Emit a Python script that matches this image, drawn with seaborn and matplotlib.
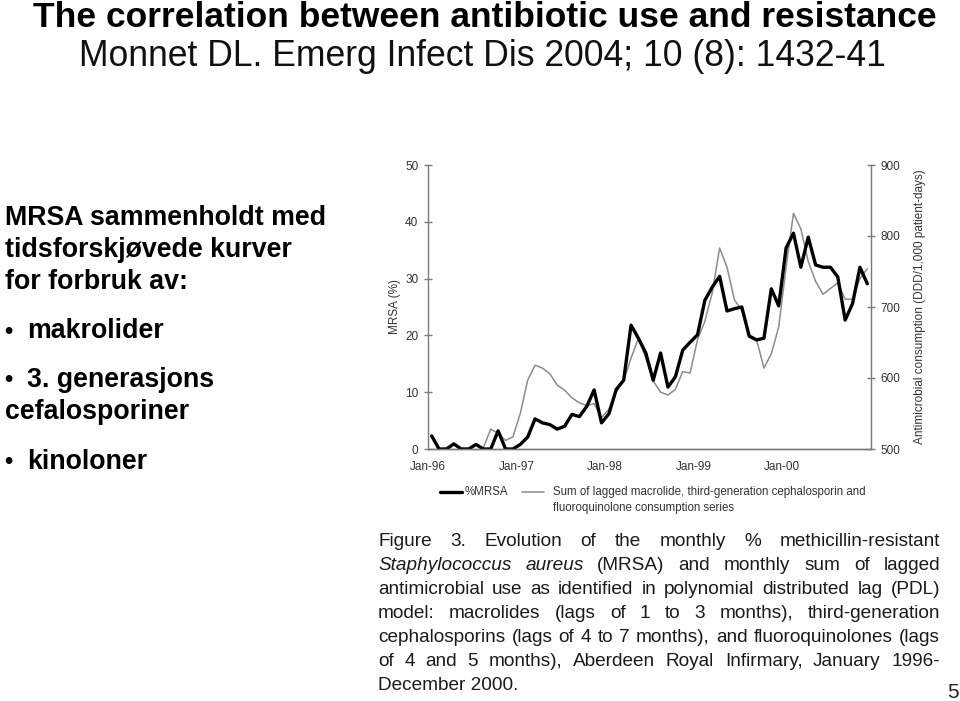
import numpy as np
import pandas as pd
import matplotlib
matplotlib.use("Agg")
import matplotlib.pyplot as plt
from matplotlib.lines import Line2D
import seaborn as sns

# Monthly data, Jan 1996 - Dec 2000
month_index = list(range(60))
mrsa_pct = [2.3, 0, 0, 0.9, 0, 0, 0.8, 0, 0, 3.2, 0, 0,
            0.8, 2.1, 5.3, 4.6, 4.3, 3.5, 4.0, 6.1, 5.7, 7.5, 10.4, 4.6,
            6.2, 10.5, 12.1, 21.8, 19.5, 16.9, 12.1, 16.9, 10.9, 12.7, 17.4, 18.8,
            20.1, 26.2, 28.5, 30.4, 24.3, 24.7, 25.0, 19.9, 19.2, 19.5, 28.2, 25.2,
            35.4, 38.0, 32.0, 37.3, 32.4, 32.0, 32.0, 30.3, 22.7, 25.6, 32.0, 29.1]
consumption_ddd = [np.nan] * 7 + [
            502, 528, 522, 512, 517,
            550, 597, 618, 614, 606, 590, 583, 572, 565, 561, 564, 544,
            556, 580, 596, 628, 656, 628, 596, 580, 576, 584, 609, 607,
            654, 680, 720, 783, 756, 710, 696, 657, 654, 614, 634, 672,
            756, 832, 810, 764, 736, 718, 726, 734, 711, 711, 740, 754]
year_ticks = [0, 12, 24, 36, 48, 60]
year_labels = ["Jan-96", "Jan-97", "Jan-98", "Jan-99", "Jan-00", ""]

sns.set_style("white")
plt.rcParams['font.family'] = ['Liberation Sans', 'DejaVu Sans']

W, H = 960, 701
fig = plt.figure(figsize=(9.6, 7.01), dpi=100)

# slide text
fig.text(485 / W, 1 - 27 / H, "The correlation between antibiotic use and resistance",
         ha='center', va='baseline', fontsize=25.5, fontweight='bold', color='black')
fig.text(482 / W, 1 - 57 / H, "Monnet DL. Emerg Infect Dis 2004; 10 (8): 1432-41",
         ha='center', va='center', fontsize=25.6, color='#111111')

left_lines = [("MRSA sammenholdt med", 5, 218), ("tidsforskjøvede kurver", 5, 250),
              ("for forbruk av:", 5, 282), ("makrolider", 27, 331),
              ("3. generasjons", 27, 380), ("cefalosporiner", 5, 412),
              ("kinoloner", 27, 462)]
for txt, x, y in left_lines:
    fig.text(x / W, 1 - y / H, txt, ha='left', va='center', fontsize=19.3,
             fontweight='bold', color='black')
for y in [331, 380, 462]:
    fig.text(4 / W, 1 - y / H, "•", ha='left', va='center', fontsize=17,
             fontweight='bold', color='black')

# chart
df = pd.DataFrame({'month': [m + 0.5 for m in month_index], 'mrsa': mrsa_pct,
                   'ddd': consumption_ddd})
ax = fig.add_axes([428 / W, 1 - 449 / H, 443 / W, 284 / H])
ax2 = ax.twinx()
sns.lineplot(data=df, x='month', y='ddd', ax=ax2, color='#8c8c8c', lw=1.1)
sns.lineplot(data=df, x='month', y='mrsa', ax=ax, color='black', lw=2.4)
ax.set_zorder(ax2.get_zorder() + 1)
ax.patch.set_visible(False)

ax.set_xlim(0, 60)
ax.set_ylim(0, 50)
ax2.set_ylim(500, 900)
ax.set_yticks(range(0, 51, 10))
ax2.set_yticks(range(500, 901, 100))
ax.set_xticks(year_ticks)
ax.set_xticklabels(year_labels)
spine_col = '#7a7a7a'
for a in (ax, ax2):
    a.spines['top'].set_visible(False)
    for s in ('left', 'right', 'bottom'):
        a.spines[s].set_color(spine_col)
        a.spines[s].set_linewidth(1.0)
    a.tick_params(direction='inout', length=6, width=1, color=spine_col,
                  labelsize=8.5, labelcolor='#333333', pad=4)
ax2.spines['left'].set_visible(False)
ax.spines['right'].set_visible(False)
ax.tick_params(axis='x', pad=6)
ax.set_xlabel("")
ax.set_ylabel("MRSA (%)", fontsize=8.5, color='#333333', labelpad=3)
ax2.set_ylabel("Antimicrobial consumption (DDD/1,000 patient-days)", fontsize=8.5,
               color='#333333', labelpad=10)

# legend below the chart
fig.add_artist(Line2D([440 / W, 462 / W], [1 - 492 / H] * 2, color='black', lw=2.4))
fig.text(465 / W, 1 - 492 / H, "%MRSA", fontsize=8.3, color='#333333', ha='left', va='center')
fig.add_artist(Line2D([522 / W, 544 / W], [1 - 492 / H] * 2, color='#8c8c8c', lw=1.1))
fig.text(553 / W, 1 - 492 / H, "Sum of lagged macrolide, third-generation cephalosporin and",
         fontsize=8.3, color='#333333', ha='left', va='center')
fig.text(553 / W, 1 - 508 / H, "fluoroquinolone consumption series",
         fontsize=8.3, color='#333333', ha='left', va='center')

# justified caption
caption = [
    [("Figure", 'normal'), ("3.", 'normal'), ("Evolution", 'normal'), ("of", 'normal'),
     ("the", 'normal'), ("monthly", 'normal'), ("%", 'normal'), ("methicillin-resistant", 'normal')],
    [("Staphylococcus", 'italic'), ("aureus", 'italic'), ("(MRSA)", 'normal'), ("and", 'normal'),
     ("monthly", 'normal'), ("sum", 'normal'), ("of", 'normal'), ("lagged", 'normal')],
    [(w, 'normal') for w in "antimicrobial use as identified in polynomial distributed lag (PDL)".split()],
    [(w, 'normal') for w in "model: macrolides (lags of 1 to 3 months), third-generation".split()],
    [(w, 'normal') for w in "cephalosporins (lags of 4 to 7 months), and fluoroquinolones (lags".split()],
    [(w, 'normal') for w in "of 4 and 5 months), Aberdeen Royal Infirmary, January 1996-".split()],
]
cap_size = 13.7
renderer = fig.canvas.get_renderer()
x0, x1 = 378, 940
for k, words in enumerate(caption):
    y = 541 + 24 * k
    items = [fig.text(0, 1 - y / H, w, style=st, fontsize=cap_size, color='#1a1a1a',
                      ha='left', va='center') for w, st in words]
    widths = [t.get_window_extent(renderer).width for t in items]
    gap = (x1 - x0 - sum(widths)) / (len(items) - 1)
    xp = x0
    for t, wd in zip(items, widths):
        t.set_x(xp / W)
        xp += wd + gap
fig.text(x0 / W, 1 - 686 / H, "December 2000.", fontsize=cap_size, color='#1a1a1a',
         ha='left', va='center')
fig.text(947 / W, 1 - 692 / H, "5", fontsize=15, color='#222222', ha='left', va='center')

fig.savefig("out.png", dpi=100)
